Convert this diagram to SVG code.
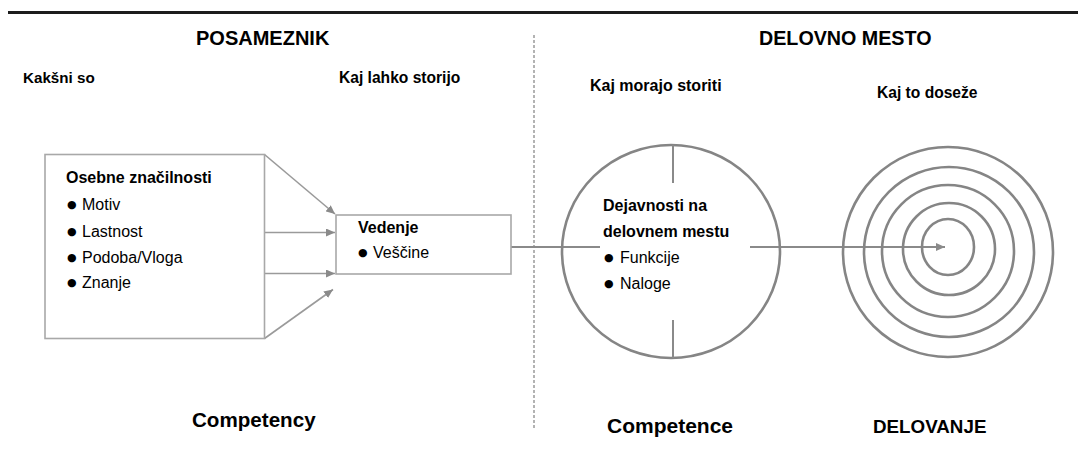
<svg xmlns="http://www.w3.org/2000/svg" width="1078" height="452" viewBox="0 0 1078 452">
<style>
text{font-family:"Liberation Sans",Arial,sans-serif;fill:#000}
.h{font-size:20px;font-weight:bold}
.s{font-size:15.6px;font-weight:bold}
.b{font-size:16px;font-weight:bold}
.r{font-size:16px}
.bul{font-family:"DejaVu Sans",sans-serif;font-size:11px}
.box{fill:#fff;stroke:#a8a8a8;stroke-width:1.6}
.ring{fill:none;stroke:#858585;stroke-width:2.6}
.tick{stroke:#8a8a8a;stroke-width:2}
.con{fill:none;stroke:#9a9a9a;stroke-width:1.6}
.con2{fill:none;stroke:#8a8a8a;stroke-width:2}
</style>
<defs>
<marker id="ah" markerUnits="userSpaceOnUse" markerWidth="10" markerHeight="8" refX="9" refY="4" orient="auto">
<path d="M0,0 L9,4 L0,8 z" fill="#8a8a8a"/>
</marker>
</defs>
<rect width="1078" height="452" fill="#fff"/>
<line x1="8" y1="12.5" x2="1078" y2="12.5" stroke="#1c1c1c" stroke-width="3"/>
<line id="divider" x1="534" y1="35" x2="534" y2="430" stroke="#9a9a9a" stroke-width="1.5" stroke-dasharray="3 2"/>
<g id="labels">
<text class="h" x="196" y="45">POSAMEZNIK</text>
<text class="h" x="759" y="45" style="font-size:19.7px">DELOVNO MESTO</text>
<text class="s" x="23" y="83" style="font-size:15.2px">Kakšni so</text>
<text class="s" x="339" y="83">Kaj lahko storijo</text>
<text class="s" x="590" y="91" style="font-size:16px">Kaj morajo storiti</text>
<text class="s" x="877" y="98">Kaj to doseže</text>
<text class="h" x="192" y="427" style="font-size:20.6px">Competency</text>
<text class="h" x="607" y="433" style="font-size:21px">Competence</text>
<text class="h" x="873" y="433" style="font-size:18.8px">DELOVANJE</text>
</g>
<g id="connectors">
<line class="con" x1="264.5" y1="154.5" x2="335" y2="214" marker-end="url(#ah)"/>
<line class="con" x1="264.5" y1="232.5" x2="335" y2="232.5" marker-end="url(#ah)"/>
<line class="con" x1="264.5" y1="273.5" x2="335" y2="273.5" marker-end="url(#ah)"/>
<line class="con" x1="264.5" y1="338.5" x2="333" y2="289.5" marker-end="url(#ah)"/>
<line class="con2" x1="511" y1="247" x2="600" y2="247"/>
<line class="con2" x1="750" y1="247" x2="945" y2="247" marker-end="url(#ah)"/>
</g>
<g id="osebne">
<rect class="box" x="45" y="154.5" width="219.5" height="184"/>
<text class="b" x="66" y="183">Osebne značilnosti</text>
<text class="bul" x="67" y="208">●</text><text class="r" x="82" y="210">Motiv</text>
<text class="bul" x="67" y="234.5">●</text><text class="r" x="82" y="236.5">Lastnost</text>
<text class="bul" x="67" y="260.5">●</text><text class="r" x="82" y="262.5">Podoba/Vloga</text>
<text class="bul" x="67" y="286">●</text><text class="r" x="82" y="288">Znanje</text>
</g>
<g id="vedenje">
<rect class="box" x="336" y="215" width="175" height="59"/>
<text class="b" x="358" y="233">Vedenje</text>
<text class="bul" x="358" y="256">●</text><text class="r" x="373" y="258">Veščine</text>
</g>
<g id="dejavnosti">
<ellipse class="ring" cx="671" cy="251.5" rx="109" ry="106.5"/>
<line class="tick" x1="673" y1="145" x2="673" y2="183"/>
<line class="tick" x1="673" y1="320" x2="673" y2="358"/>
<text class="b" x="603" y="211">Dejavnosti na</text>
<text class="b" x="603" y="237">delovnem mestu</text>
<text class="bul" x="604" y="261">●</text><text class="r" x="620" y="263">Funkcije</text>
<text class="bul" x="604" y="287">●</text><text class="r" x="620" y="289">Naloge</text>
</g>
<g id="delovanje">
<circle class="ring" cx="948" cy="252" r="105"/>
<circle class="ring" cx="949" cy="252" r="85"/>
<circle class="ring" cx="948" cy="251" r="66"/>
<circle class="ring" cx="949" cy="249" r="46"/>
<ellipse class="ring" cx="948" cy="247" rx="26" ry="28"/>
</g>
</svg>
